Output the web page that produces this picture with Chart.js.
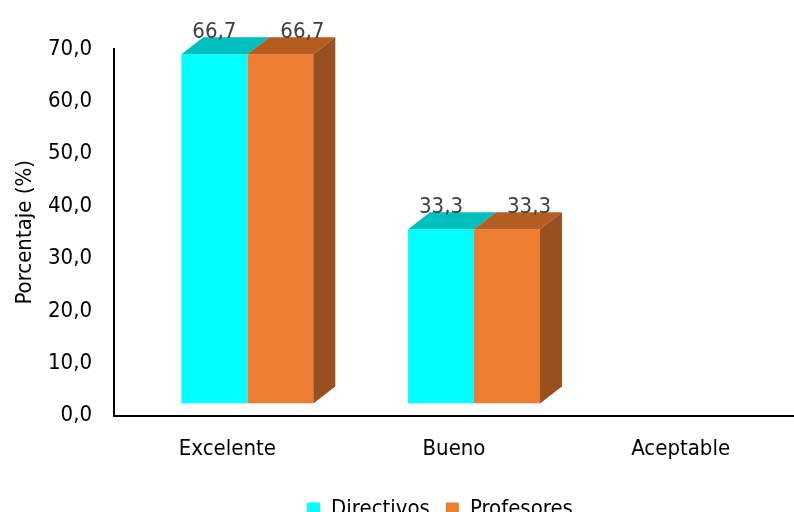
<!DOCTYPE html>
<html>
<head>
<meta charset="utf-8">
<script src="https://cdn.jsdelivr.net/npm/chart.js@4"></script>
<style>
  html, body { margin: 0; padding: 0; background: #fff; overflow: hidden; }
  #wrap { width: 794px; height: 530px; position: relative; }
</style>
</head>
<body>
<div id="wrap"><canvas id="c"></canvas></div>
<script>
const categories = ["Excelente", "Bueno", "Aceptable"];
const directivos = [66.7, 33.3, null];
const profesores = [66.7, 33.3, null];
const seriesNames = ["Directivos", "Profesores"];
const yTicks = [0, 10, 20, 30, 40, 50, 60, 70];

const FONT = "'Liberation Sans Narrow', 'Arial Narrow', 'DejaVu Sans Condensed', sans-serif";
const FS = 22;
const fmt = v => v.toFixed(1).replace('.', ',');

const FRONT = ["#00FFFF", "#ED7D31"];
const TOP = ["#00BFBF", "#B45C22"];
const SIDE = ["#009999", "#9A4F1F"];
const SHIFT_X = 20, SHIFT_Y = -12;   // front face offset
const DX = 22, DY = -17;             // depth
const LABEL_DX = [0, 22];
const LEGEND_SHIFT = -14;

const bar3d = {
  id: 'bar3d',
  afterLayout(chart) {
    if (chart.legend) { chart.legend.left += LEGEND_SHIFT; chart.legend.right += LEGEND_SHIFT; }
  },
  beforeDatasetsDraw(chart) {
    chart.ctx.save();
    chart.ctx.translate(SHIFT_X, SHIFT_Y);
  },
  afterDatasetsDraw(chart) {
    const ctx = chart.ctx;
    const n = chart.data.datasets.length;
    chart.data.datasets.forEach((ds, di) => {
      const meta = chart.getDatasetMeta(di);
      meta.data.forEach((bar, i) => {
        if (ds.data[i] == null) return;
        const l = bar.x - bar.width / 2, r = bar.x + bar.width / 2;
        const t = bar.y, b = bar.base;
        ctx.fillStyle = TOP[di];
        ctx.beginPath();
        ctx.moveTo(l, t); ctx.lineTo(l + DX, t + DY); ctx.lineTo(r + DX, t + DY); ctx.lineTo(r, t);
        ctx.closePath(); ctx.fill();
        if (di === n - 1) {
          ctx.fillStyle = SIDE[di];
          ctx.beginPath();
          ctx.moveTo(r, t); ctx.lineTo(r + DX, t + DY); ctx.lineTo(r + DX, b + DY); ctx.lineTo(r, b);
          ctx.closePath(); ctx.fill();
        }
      });
    });
    ctx.fillStyle = "#404040";
    ctx.font = FS + "px " + FONT;
    ctx.textAlign = "center";
    ctx.textBaseline = "alphabetic";
    chart.data.datasets.forEach((ds, di) => {
      const meta = chart.getDatasetMeta(di);
      meta.data.forEach((bar, i) => {
        if (ds.data[i] == null) return;
        ctx.fillText(fmt(ds.data[i]), bar.x + LABEL_DX[di], bar.y + DY + 1);
      });
    });
    ctx.restore();
  }
};

new Chart(document.getElementById('c'), {
  type: 'bar',
  data: {
    labels: categories,
    datasets: [
      { label: seriesNames[0], data: directivos, backgroundColor: FRONT[0] },
      { label: seriesNames[1], data: profesores, backgroundColor: FRONT[1] }
    ]
  },
  options: {
    responsive: true,
    maintainAspectRatio: false,
    animation: false,
    layout: { padding: { top: 49, right: 0, left: 8, bottom: 0 } },
    categoryPercentage: 0.582,
    barPercentage: 1.0,
    plugins: {
      tooltip: { enabled: false },
      legend: {
        position: 'bottom',
        fullSize: false,
        labels: {
          font: { family: FONT, size: FS },
          color: "#000",
          boxWidth: 13, boxHeight: 13,
          padding: 16
        }
      }
    },
    scales: {
      x: {
        grid: { display: false, drawTicks: false },
        border: { color: "#000", width: 2 },
        ticks: { color: "#000", font: { family: FONT, size: FS }, padding: 20 }
      },
      y: {
        min: 0, max: 70,
        afterBuildTicks: axis => { axis.ticks = yTicks.map(v => ({ value: v })); },
        afterFit: axis => { axis.width = 106; },
        grid: { display: false, drawTicks: false },
        border: { color: "#000", width: 2 },
        ticks: { color: "#000", font: { family: FONT, size: FS }, padding: 22, callback: v => fmt(v) },
        title: { display: true, text: "Porcentaje (%)", color: "#000", font: { family: FONT, size: FS }, padding: 4 }
      }
    }
  },
  plugins: [bar3d]
});
</script>
</body>
</html>
